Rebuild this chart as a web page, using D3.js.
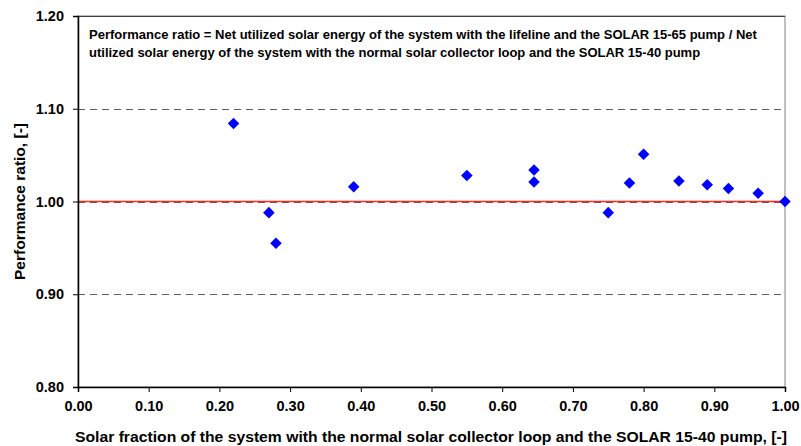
<!DOCTYPE html>
<html><head><meta charset="utf-8">
<script src="https://cdn.jsdelivr.net/npm/d3@7"></script>
<style>body{margin:0;background:#fff;} text{font-family:Arial,"Liberation Sans",sans-serif;font-weight:bold;}</style>
</head><body><svg id="c" width="801" height="446"></svg>
<script>
const xValues = [0.22, 0.27, 0.28, 0.39, 0.55, 0.645, 0.645, 0.75, 0.78, 0.80, 0.85, 0.89, 0.92, 0.962, 1.00];
const yValues = [1.084, 0.988, 0.955, 1.016, 1.028, 1.034, 1.021, 0.988, 1.020, 1.051, 1.022, 1.018, 1.014, 1.009, 1.000];
const xTicks = [0, 0.1, 0.2, 0.3, 0.4, 0.5, 0.6, 0.7, 0.8, 0.9, 1.0];
const yTicks = [0.8, 0.9, 1.0, 1.1, 1.2];
const referenceValue = [1.0];
const noteLines = ["Performance ratio = Net utilized solar energy of the system with the lifeline and the SOLAR 15-65 pump / Net",
  "utilized solar energy of the system with the normal solar collector loop and the SOLAR 15-40 pump"];
const xTitle = "Solar fraction of the system with the normal solar collector loop and the SOLAR 15-40 pump, [-]";
const yTitle = "Performance ratio, [-]";

const svg = d3.select("#c");
const L = 78, R = 785, T = 16, B = 387;
const x = d3.scaleLinear().domain([0, 1]).range([L, R]);
const y = d3.scaleLinear().domain([0.8, 1.2]).range([B, T]);

// plot border
svg.append("rect").attr("x", L).attr("y", T).attr("width", R - L).attr("height", B - T)
  .attr("fill", "none").attr("stroke", "#808080").attr("stroke-width", 1);

// grid lines
svg.append("g").selectAll("line").data(yTicks.filter(d => d > 0.8 && d < 1.2)).join("line")
  .attr("x1", L).attr("x2", R).attr("y1", d => Math.round(y(d)) + 0.5).attr("y2", d => Math.round(y(d)) + 0.5)
  .attr("stroke", "#606060").attr("stroke-width", 1).attr("stroke-dasharray", "7,5");
svg.append("line").attr("x1", L).attr("x2", R).attr("y1", Math.round(y(1.2)) + 0.5).attr("y2", Math.round(y(1.2)) + 0.5)
  .attr("stroke", "#404040").attr("stroke-width", 1);

// reference red line
svg.append("g").selectAll("line").data(referenceValue).join("line")
  .attr("x1", L).attr("x2", R).attr("y1", d => y(d)).attr("y2", d => y(d))
  .attr("stroke", "#ff0000").attr("stroke-opacity", 0.85).attr("stroke-width", 1.5);

// axes
const fmt = d3.format(".2f");
const xAxis = svg.append("g").attr("transform", `translate(0,${B})`)
  .call(d3.axisBottom(x).tickValues(xTicks).tickFormat(fmt).tickSize(5).tickPadding(9));
const yAxis = svg.append("g").attr("transform", `translate(${L},0)`)
  .call(d3.axisLeft(y).tickValues(yTicks).tickFormat(fmt).tickSize(5).tickPadding(9));
[xAxis, yAxis].forEach(a => {
  a.select(".domain").attr("stroke", "#000").attr("stroke-width", 1.5);
  a.selectAll(".tick line").attr("stroke", "#000");
  a.selectAll("text").attr("fill", "#000").style("font-size", "14.5px").style("font-weight", "bold")
    .style("font-family", "Arial, 'Liberation Sans', sans-serif");
});

// points
const diamond = d3.symbol().type(d3.symbolDiamond2).size(85);
svg.append("g").selectAll("path").data(xValues.map((v, i) => [v, yValues[i]])).join("path")
  .attr("d", diamond).attr("transform", d => `translate(${x(d[0])},${y(d[1])})`)
  .attr("fill", "#0000ff");

// note
svg.append("g").selectAll("text").data(noteLines).join("text")
  .attr("x", 89).attr("y", (d, i) => 39 + i * 18).attr("font-size", "13px").attr("fill", "#000").text(d => d);

// axis titles
svg.append("text").attr("x", 431).attr("y", 441.5).attr("text-anchor", "middle")
  .attr("font-size", "14.5px").attr("fill", "#000")
  .attr("textLength", 712).attr("lengthAdjust", "spacingAndGlyphs").text(xTitle);
svg.append("text").attr("transform", `translate(25,201.5) rotate(-90)`).attr("text-anchor", "middle")
  .attr("font-size", "14.5px").attr("fill", "#000")
  .attr("textLength", 157).attr("lengthAdjust", "spacingAndGlyphs").text(yTitle);
</script></body></html>
